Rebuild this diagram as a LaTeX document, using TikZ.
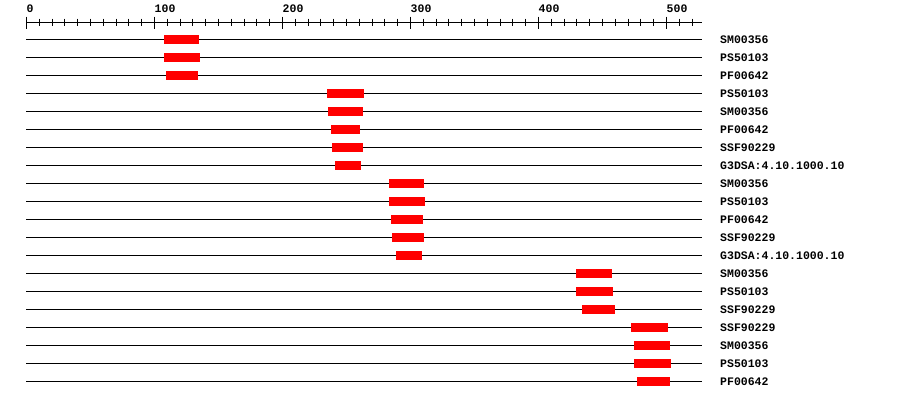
\documentclass[tikz,border=0pt]{standalone}
\usepackage{fontspec}
\newfontfamily\monofont{Liberation Mono}
\usepackage{tikz}
\usetikzlibrary{positioning}
\definecolor{hitred}{RGB}{255,0,0}

\begin{document}
\begin{tikzpicture}[
    x=1.28pt, y=1pt,
    seqline/.style={line width=1pt},
    hit/.style={fill=hitred, draw=none},
    lbl/.style={font=\monofont\bfseries\fontsize{11.5}{12}\selectfont, anchor=base west, inner sep=0pt}
]
\useasboundingbox (-20.7,0) rectangle (682.4,-400);
% ruler
\draw[seqline] (0,-22) -- (528,-22);
\foreach \t in {0,10,...,520} \draw[seqline] (\t,-18.5) -- (\t,-25.5);
\foreach \t in {0,100,...,500} {
  \draw[seqline] (\t,-16.5) -- (\t,-28.5);
  \node[lbl] (tick\t) at (\t,-12) {\t};
}
% domain hits, one per row
\foreach \s/\e/\name [count=\i] in {
    107.4/134.8/SM00356, 107.4/135.5/PS50103, 109.0/134.0/PF00642,
    234.8/263.7/PS50103, 235.5/262.9/SM00356, 237.9/260.5/PF00642,
    238.7/262.9/SSF90229, 241.0/261.3/G3DSA:4.10.1000.10,
    283.2/310.5/SM00356, 283.2/311.3/PS50103, 284.8/309.8/PF00642,
    285.5/310.5/SSF90229, 288.7/308.9/G3DSA:4.10.1000.10,
    429.3/457.4/SM00356, 429.3/458.2/PS50103, 434.0/459.8/SSF90229,
    472.3/501.2/SSF90229, 474.6/502.7/SM00356, 474.6/503.5/PS50103,
    477.0/502.7/PF00642} {
  \pgfmathsetmacro\y{-39-18*(\i-1)}
  \draw[seqline] (0,\y) -- (528,\y);
  \fill[hit] (\s,\y-4.5) rectangle (\e,\y+4.5);
  \node[lbl] (lab\i) at (541.8,\y-4) {\name};
}
\end{tikzpicture}
\end{document}
